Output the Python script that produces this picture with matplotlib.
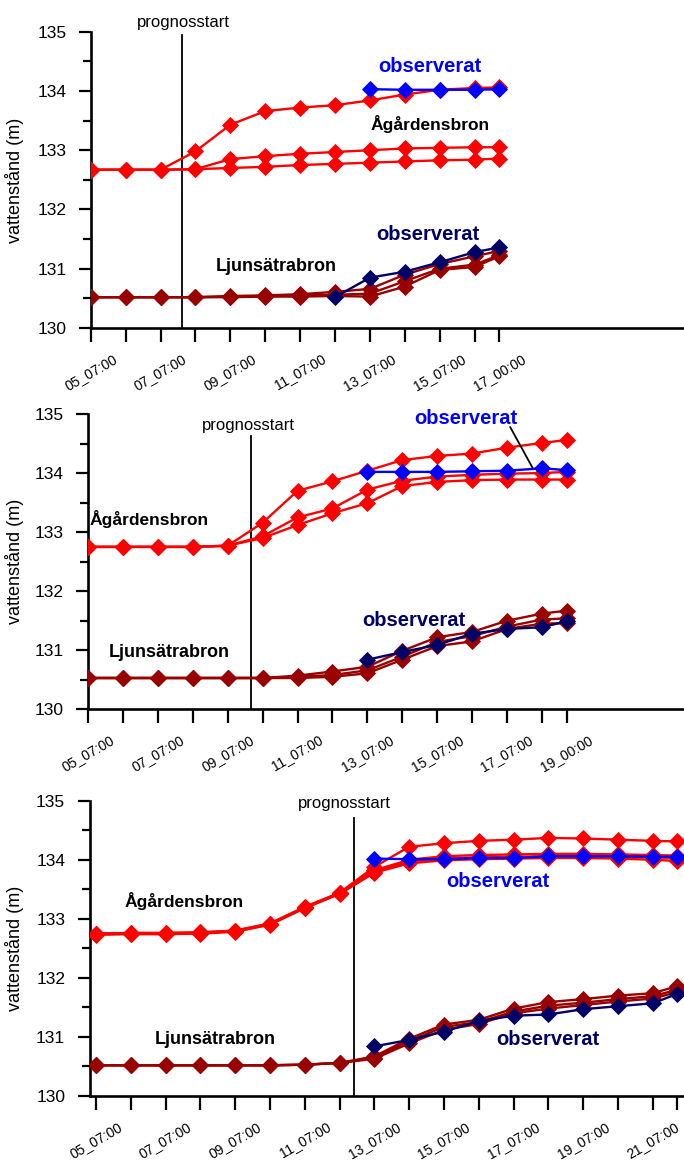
import matplotlib
matplotlib.use('Agg')
import matplotlib.pyplot as plt
from matplotlib.ticker import FixedLocator, MultipleLocator

matplotlib.rcParams.update({'font.family': ['Liberation Sans', 'DejaVu Sans'], 'font.size': 11,
                            'xtick.labelsize': 10, 'ytick.labelsize': 12.5})

# ---- panel 1 data ----
times1 = ['05_07:00', '06_07:00', '07_07:00', '08_07:00', '09_07:00', '10_07:00', '11_07:00',
          '12_07:00', '13_07:00', '14_07:00', '15_07:00', '16_07:00', '17_00:00']
ag1_a = [132.67, 132.67, 132.67, 132.98, 133.43, 133.66, 133.72, 133.76, 133.84, 133.94, 134.02, 134.05, 134.06]
ag1_b = [132.67, 132.67, 132.67, 132.68, 132.85, 132.90, 132.94, 132.97, 133.00, 133.03, 133.04, 133.05, 133.05]
ag1_c = [132.67, 132.67, 132.67, 132.68, 132.70, 132.72, 132.75, 132.77, 132.79, 132.81, 132.83, 132.84, 132.86]
ag1_obs_start = '13_07:00'
ag1_obs = [134.03, 134.02, 134.02, 134.02, 134.03]
lj1_a = [130.52, 130.52, 130.52, 130.52, 130.54, 130.55, 130.57, 130.61, 130.66, 130.90, 131.08, 131.21, 131.30]
lj1_b = [130.52, 130.52, 130.52, 130.52, 130.53, 130.54, 130.55, 130.56, 130.58, 130.79, 131.00, 131.07, 131.23]
lj1_c = [130.52, 130.52, 130.52, 130.52, 130.52, 130.53, 130.53, 130.54, 130.53, 130.70, 130.98, 131.03, 131.21]
lj1_obs_start = '12_07:00'
lj1_obs = [130.52, 130.85, 130.95, 131.11, 131.28, 131.36]
prog1 = '07_22:00'

# ---- panel 2 data ----
times2 = ['05_07:00', '06_07:00', '07_07:00', '08_07:00', '09_07:00', '10_07:00', '11_07:00',
          '12_07:00', '13_07:00', '14_07:00', '15_07:00', '16_07:00', '17_07:00', '18_07:00', '19_00:00']
ag2_a = [132.75, 132.75, 132.75, 132.75, 132.77, 133.16, 133.70, 133.86, 134.04, 134.22, 134.29, 134.33, 134.43, 134.51, 134.56]
ag2_b = [132.75, 132.75, 132.75, 132.75, 132.77, 132.93, 133.25, 133.40, 133.72, 133.87, 133.94, 133.97, 133.99, 134.00, 134.02]
ag2_c = [132.75, 132.75, 132.75, 132.75, 132.77, 132.90, 133.12, 133.32, 133.49, 133.78, 133.85, 133.88, 133.89, 133.89, 133.89]
ag2_obs_start = '13_07:00'
ag2_obs = [134.02, 134.02, 134.02, 134.03, 134.04, 134.08, 134.05]
lj2_a = [130.53, 130.53, 130.53, 130.53, 130.53, 130.53, 130.57, 130.64, 130.72, 130.99, 131.22, 131.31, 131.50, 131.62, 131.67]
lj2_b = [130.53, 130.53, 130.53, 130.53, 130.53, 130.53, 130.55, 130.58, 130.66, 130.89, 131.14, 131.24, 131.40, 131.52, 131.54]
lj2_c = [130.53, 130.53, 130.53, 130.53, 130.53, 130.53, 130.53, 130.55, 130.61, 130.84, 131.07, 131.15, 131.36, 131.45, 131.46]
lj2_obs_start = '13_07:00'
lj2_obs = [130.84, 130.97, 131.09, 131.28, 131.36, 131.39, 131.49]
prog2 = '09_23:00'

# ---- panel 3 data ----
times3 = ['05_07:00', '06_07:00', '07_07:00', '08_07:00', '09_07:00', '10_07:00', '11_07:00', '12_07:00',
          '13_07:00', '14_07:00', '15_07:00', '16_07:00', '17_07:00', '18_07:00', '19_07:00', '20_07:00',
          '21_07:00', '22_00:00']
ag3_a = [132.75, 132.76, 132.76, 132.77, 132.80, 132.92, 133.20, 133.44, 133.88, 134.22, 134.28, 134.32, 134.34, 134.37, 134.36, 134.34, 134.32, 134.31]
ag3_b = [132.75, 132.76, 132.76, 132.77, 132.80, 132.92, 133.20, 133.44, 133.82, 134.00, 134.06, 134.08, 134.09, 134.10, 134.10, 134.09, 134.08, 134.07]
ag3_c = [132.74, 132.75, 132.75, 132.76, 132.79, 132.91, 133.19, 133.43, 133.80, 133.97, 134.02, 134.04, 134.05, 134.06, 134.06, 134.05, 134.04, 134.03]
ag3_d = [132.73, 132.74, 132.74, 132.75, 132.78, 132.90, 133.18, 133.42, 133.78, 133.94, 133.99, 134.01, 134.02, 134.03, 134.03, 134.02, 134.00, 133.98]
ag3_obs_start = '13_07:00'
ag3_obs = [134.02, 134.01, 134.01, 134.03, 134.03, 134.06, 134.06, 134.06, 134.05, 134.05]
lj3_a = [130.52, 130.52, 130.52, 130.52, 130.52, 130.52, 130.53, 130.56, 130.67, 130.97, 131.21, 131.29, 131.48, 131.59, 131.64, 131.70, 131.74, 131.86]
lj3_b = [130.52, 130.52, 130.52, 130.52, 130.52, 130.52, 130.53, 130.56, 130.65, 130.93, 131.17, 131.25, 131.43, 131.53, 131.58, 131.64, 131.69, 131.80]
lj3_c = [130.52, 130.52, 130.52, 130.52, 130.52, 130.52, 130.53, 130.56, 130.63, 130.89, 131.12, 131.22, 131.40, 131.48, 131.54, 131.60, 131.65, 131.76]
lj3_obs_start = '13_07:00'
lj3_obs = [130.84, 130.95, 131.09, 131.27, 131.36, 131.38, 131.47, 131.52, 131.57, 131.73]
prog3 = '12_17:00'

RED = '#FF0000'
BLUE = '#0000FF'
DRED = '#990000'
NAVY = '#000066'


def day_pos(t):
    # '05_07:00' -> days since 05_07:00
    return (int(t[:2]) - 5) + (int(t[3:5]) - 7) / 24.0


def series(ax, xs, ys, color, z):
    ax.plot(xs, ys, color=color, lw=1.7, marker='D', ms=7.8, mec=color, mew=0.6, zorder=z)


def draw_panel(ax, times, ag_fc, ag_start, ag_obs, lj_fc, lj_start, lj_obs, prog, ptop, xlim, labels_every):
    x = [day_pos(t) for t in times]
    for ys in lj_fc:
        series(ax, x, ys, DRED, 3)
    i0 = times.index(lj_start)
    series(ax, x[i0:i0 + len(lj_obs)], lj_obs, NAVY, 4)
    for ys in ag_fc:
        series(ax, x, ys, RED, 3)
    i0 = times.index(ag_start)
    series(ax, x[i0:i0 + len(ag_obs)], ag_obs, BLUE, 4)

    ax.set_xlim(*xlim)
    ax.set_ylim(130, 135)
    ax.spines['top'].set_visible(False)
    ax.spines['right'].set_visible(False)
    ax.spines['left'].set_linewidth(1.9)
    ax.spines['bottom'].set_linewidth(1.9)
    ax.yaxis.set_major_locator(MultipleLocator(1))
    ax.yaxis.set_minor_locator(MultipleLocator(0.5))
    ax.tick_params(axis='y', which='major', direction='out', length=8.5, width=1.6, pad=9)
    ax.tick_params(axis='y', which='minor', direction='out', length=5.5, width=1.6)
    ax.xaxis.set_major_locator(FixedLocator(x))
    ax.set_xticklabels([t if i in labels_every else '' for i, t in enumerate(times)],
                       rotation=30, ha='center')
    ax.tick_params(axis='x', which='major', direction='out', length=10, width=1.6, pad=7)

    xp = day_pos(prog)
    ax.plot([xp, xp], [130, ptop], color='black', lw=1.3, zorder=2, clip_on=False)


fig = plt.figure(figsize=(6.84, 11.6), dpi=100)
ax1 = fig.add_axes([90.7 / 684, 1 - 328 / 1160, 1 - 90.7 / 684, 296.3 / 1160])
ax2 = fig.add_axes([88.1 / 684, 1 - 709.3 / 1160, 1 - 88.1 / 684, 295.3 / 1160])
ax3 = fig.add_axes([89.5 / 684, 1 - 1096 / 1160, 1 - 89.5 / 684, 295.3 / 1160])

draw_panel(ax1, times1, [ag1_a, ag1_b, ag1_c], ag1_obs_start, ag1_obs,
           [lj1_a, lj1_b, lj1_c], lj1_obs_start, lj1_obs, prog1, 134.95, (0, 17.0), [0, 2, 4, 6, 8, 10, 12])
draw_panel(ax2, times2, [ag2_a, ag2_b, ag2_c], ag2_obs_start, ag2_obs,
           [lj2_a, lj2_b, lj2_c], lj2_obs_start, lj2_obs, prog2, 134.63, (0, 17.07), [0, 2, 4, 6, 8, 10, 12, 14])
draw_panel(ax3, times3, [ag3_a, ag3_b, ag3_c, ag3_d], ag3_obs_start, ag3_obs,
           [lj3_a, lj3_b, lj3_c], lj3_obs_start, lj3_obs, prog3, 134.70, (-0.187, 16.9), [0, 2, 4, 6, 8, 10, 12, 14, 16])

bold = dict(fontweight='bold', ha='center', va='center', zorder=6)
# panel 1 texts
ax1.text(2.67, 135.15, 'prognosstart', ha='center', va='center', fontsize=12)
ax1.text(9.73, 134.41, 'observerat', color=BLUE, fontsize=14.5, **bold)
ax1.text(9.72, 133.44, 'Ågårdensbron', color='black', fontsize=12.5, **bold)
ax1.text(9.66, 131.57, 'observerat', color=NAVY, fontsize=14.5, **bold)
ax1.text(5.31, 131.03, 'Ljunsätrabron', color='black', fontsize=13, **bold)
# panel 2 texts
ax2.text(4.60, 134.81, 'prognosstart', ha='center', va='center', fontsize=12)
ax2.text(1.745, 133.22, 'Ågårdensbron', color='black', fontsize=12.5, **bold)
ax2.text(10.81, 134.93, 'observerat', color=BLUE, fontsize=14.5, **bold)
ax2.text(9.34, 131.50, 'observerat', color=NAVY, fontsize=14.5, **bold)
ax2.text(2.33, 130.97, 'Ljunsätrabron', color='black', fontsize=13, **bold)
ax2.annotate('', xy=(12.74, 134.08), xytext=(12.09, 134.78),
             arrowprops=dict(arrowstyle='-', color='black', lw=1.3, shrinkA=0, shrinkB=0))
# panel 3 texts
ax3.text(7.15, 134.95, 'prognosstart', ha='center', va='center', fontsize=12)
ax3.text(2.52, 133.30, 'Ågårdensbron', color='black', fontsize=12.5, **bold)
ax3.text(11.55, 133.63, 'observerat', color=BLUE, fontsize=14.5, **bold)
ax3.text(3.42, 130.95, 'Ljunsätrabron', color='black', fontsize=13, **bold)
ax3.text(13.0, 130.96, 'observerat', color=NAVY, fontsize=14.5, **bold)

for yc in [180, 561.6, 948.3]:
    fig.text(15 / 684, 1 - yc / 1160, 'vattenstånd (m)', rotation=90, ha='center', va='center', fontsize=13)

fig.savefig('out.png', dpi=100)
plt.close()
